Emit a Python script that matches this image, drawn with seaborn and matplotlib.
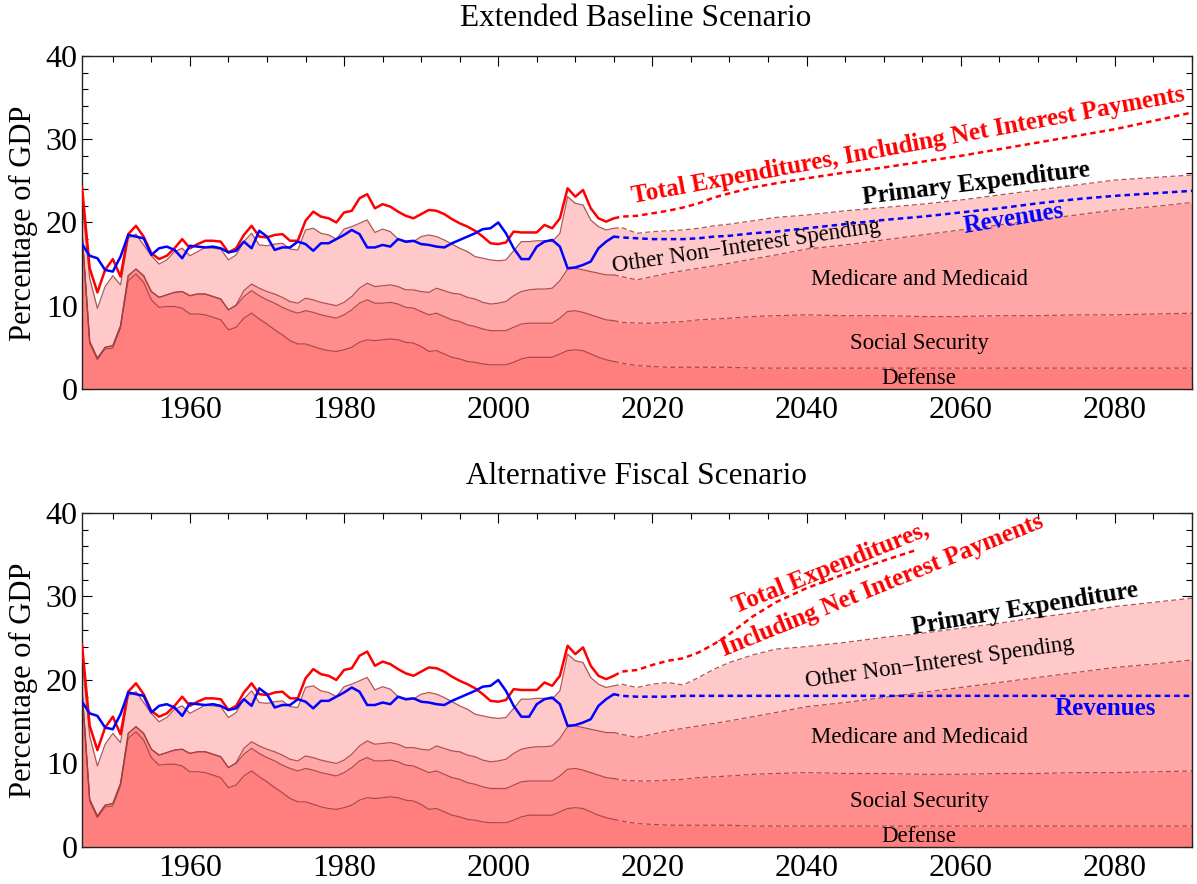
import matplotlib
matplotlib.use('Agg')
import matplotlib.pyplot as plt
from matplotlib.ticker import MultipleLocator
import numpy as np
import seaborn as sns

# ---- historical data, 1946-2015 (percent of GDP) ----
hist_years = list(range(1946, 2016))
defense_hist = [18.7, 5.5, 3.5, 4.8, 4.9, 7.3, 13.0, 13.8, 12.8, 10.7, 9.8, 9.9, 9.9, 9.7,
                9.0, 9.0, 8.9, 8.6, 8.3, 7.1, 7.4, 8.5, 9.1, 8.4, 7.8, 7.1, 6.5, 5.8, 5.4, 5.4,
                5.1, 4.8, 4.6, 4.5, 4.7, 5.0, 5.6, 5.9, 5.8, 5.9, 6.0, 5.9, 5.6, 5.5, 5.1, 4.5,
                4.6, 4.2, 3.8, 3.6, 3.3, 3.2, 3.0, 2.9, 2.9, 2.9, 3.2, 3.6, 3.8, 3.8, 3.8, 3.8,
                4.2, 4.6, 4.7, 4.6, 4.2, 3.8, 3.5, 3.3]
socsec_hist = [0.2, 0.2, 0.2, 0.2, 0.3, 0.3, 0.6, 0.6, 0.8, 1.0, 1.2, 1.4, 1.7, 2.0,
               2.2, 2.4, 2.5, 2.5, 2.5, 2.4, 2.6, 2.6, 2.7, 2.8, 2.9, 3.2, 3.3, 3.6, 3.7, 4.0,
               4.1, 4.1, 4.1, 4.0, 4.2, 4.5, 4.7, 4.8, 4.5, 4.4, 4.4, 4.3, 4.2, 4.2, 4.2, 4.4,
               4.5, 4.5, 4.5, 4.5, 4.4, 4.3, 4.2, 4.1, 4.1, 4.1, 4.2, 4.2, 4.1, 4.1, 4.1, 4.1,
               4.3, 4.7, 4.7, 4.6, 4.7, 4.8, 4.8, 4.9]
medic_hist = [0.0] * 20 + [0.1, 0.7, 0.8, 0.9, 1.0, 1.1, 1.2, 1.1, 1.2, 1.5,
                           1.5, 1.5, 1.5, 1.5, 1.5, 1.6, 1.8, 2.0, 2.0, 2.1, 2.1, 2.1, 2.1, 2.2,
                           2.4, 2.7, 3.0, 3.1, 3.2, 3.3, 3.3, 3.3, 3.2, 3.2, 3.3, 3.5, 3.8, 3.9,
                           4.0, 4.1, 4.1, 4.2, 4.5, 5.1, 5.1, 5.1, 5.2, 5.3, 5.4, 5.5]
primary_hist = [22.5, 13.3, 9.7, 12.3, 13.6, 12.5, 18.1, 18.6, 17.3, 16.0, 15.0, 15.5, 16.5,
                16.9, 16.0, 16.5, 17.0, 16.9, 16.8, 15.5, 16.1, 17.7, 18.7, 17.3, 17.2, 17.4,
                17.5, 16.8, 16.7, 19.1, 19.3, 18.7, 18.5, 18.0, 19.2, 19.5, 19.9, 20.3, 18.8,
                19.2, 18.9, 18.0, 17.6, 17.7, 18.3, 18.5, 18.3, 17.9, 17.4, 16.9, 16.5, 15.9,
                15.7, 15.5, 15.4, 15.5, 16.6, 17.7, 17.7, 17.8, 17.8, 17.7, 18.7, 23.1, 22.3,
                22.1, 20.3, 19.5, 19.1, 19.3]
total_hist = [24.3, 14.5, 11.6, 14.3, 15.6, 13.5, 18.6, 19.6, 18.3, 16.3, 15.6, 16.0, 16.9,
              18.0, 16.9, 17.4, 17.8, 17.8, 17.7, 16.4, 16.9, 18.5, 19.6, 18.3, 18.2, 18.5,
              18.6, 17.8, 17.8, 20.2, 21.3, 20.7, 20.5, 20.0, 21.2, 21.4, 22.9, 23.4, 21.7,
              22.2, 21.9, 21.3, 20.8, 20.5, 21.0, 21.5, 21.4, 21.0, 20.4, 19.9, 19.5, 19.0,
              18.3, 17.5, 17.4, 17.6, 18.9, 18.8, 18.8, 18.8, 19.7, 19.3, 20.5, 24.1, 23.1,
              23.9, 21.7, 20.5, 20.1, 20.5]
revenue_hist = [17.4, 16.0, 15.7, 14.3, 14.1, 15.9, 18.5, 18.3, 18.1, 16.1, 16.9, 17.1, 16.7,
                15.7, 17.2, 17.1, 17.0, 17.1, 16.9, 16.4, 16.6, 17.7, 16.9, 19.0, 18.3, 16.7,
                17.0, 17.0, 17.7, 17.4, 16.6, 17.5, 17.5, 18.0, 18.5, 19.1, 18.6, 17.0, 17.0,
                17.3, 17.1, 18.0, 17.7, 17.8, 17.4, 17.3, 17.1, 17.0, 17.5, 17.9, 18.3, 18.7,
                19.2, 19.3, 20.0, 18.7, 16.9, 15.6, 15.6, 17.1, 17.7, 17.9, 17.1, 14.5, 14.6,
                14.9, 15.3, 16.9, 17.7, 18.3]

# ---- projections, 2015-2090 ----
proj_years = [2015, 2016, 2018, 2020, 2022, 2024, 2026, 2028, 2030, 2033, 2036, 2040,
              2045, 2050, 2055, 2060, 2065, 2070, 2075, 2080, 2085, 2090]
defense_proj = [3.3, 3.1, 2.8, 2.7, 2.6, 2.6, 2.6, 2.6, 2.6, 2.5, 2.5, 2.5,
                2.5, 2.5, 2.5, 2.5, 2.5, 2.5, 2.5, 2.5, 2.5, 2.5]
socsec_proj = [4.9, 4.9, 5.1, 5.2, 5.4, 5.5, 5.7, 5.8, 5.9, 6.2, 6.3, 6.4,
               6.3, 6.3, 6.2, 6.2, 6.3, 6.3, 6.4, 6.4, 6.5, 6.6]
medic_proj = [5.5, 5.5, 5.2, 5.6, 5.9, 6.1, 6.2, 6.4, 6.6, 6.9, 7.3, 7.9,
              8.5, 9.1, 9.8, 10.4, 10.9, 11.5, 12.0, 12.6, 12.9, 13.3]

# extended baseline
primary_base = [19.3, 19.4, 18.7, 18.9, 19.0, 19.1, 19.3, 19.6, 19.8, 20.2, 20.6, 20.9,
                21.4, 21.8, 22.2, 22.7, 23.3, 23.9, 24.5, 25.1, 25.4, 25.7]
total_base = [20.5, 20.7, 20.8, 21.1, 21.4, 21.8, 22.3, 23.0, 23.5, 24.2, 24.7, 25.3,
              26.0, 26.6, 27.3, 28.0, 28.8, 29.6, 30.4, 31.2, 32.2, 33.2]
revenue_base = [18.3, 18.2, 18.1, 18.0, 18.0, 18.0, 18.1, 18.3, 18.4, 18.7, 18.9, 19.3,
                19.8, 20.3, 20.7, 21.2, 21.7, 22.3, 22.8, 23.2, 23.5, 23.8]

# alternative fiscal scenario
primary_alt = [19.3, 19.5, 19.1, 19.5, 19.7, 19.4, 20.3, 21.3, 22.1, 23.0, 23.7, 24.0,
               24.5, 25.1, 25.6, 26.2, 26.8, 27.5, 28.1, 28.8, 29.3, 29.8]
total_alt_years = [2015, 2016, 2018, 2020, 2022, 2024, 2026, 2028, 2030, 2033, 2036, 2040,
                   2045, 2050, 2054]
total_alt = [20.5, 21.0, 21.2, 21.8, 22.3, 22.6, 23.3, 24.3, 25.5, 27.6, 29.3, 31.0,
             32.7, 34.3, 35.5]
revenue_alt = [18.3, 18.1, 18.0, 18.0, 18.0, 18.1, 18.1, 18.1, 18.1, 18.1, 18.1, 18.1,
               18.1, 18.1, 18.1, 18.1, 18.1, 18.1, 18.1, 18.1, 18.1, 18.1]

# colours
C_DEF, C_SS, C_MED, C_OTH = '#FF7F7F', '#FF8D8D', '#FFA6A6', '#FFC9C9'
C_EDGE = '#A33A3A'
DOTS = (0, (2.2, 1.6))
FINE = (0, (4, 2.5))

sns.set_theme(style='ticks')
plt.rcParams['font.family'] = ['Liberation Serif', 'DejaVu Serif']
plt.rcParams['text.color'] = 'black'
plt.rcParams['axes.labelcolor'] = 'black'


def draw_panel(ax, primary_proj, tot_years, tot_proj, rev_proj):
    hy = np.array(hist_years, dtype=float)
    py = np.array(proj_years, dtype=float)
    d_h = np.array(defense_hist)
    s_h = d_h + np.array(socsec_hist)
    m_h = s_h + np.array(medic_hist)
    p_h = np.array(primary_hist)
    d_p = np.array(defense_proj)
    s_p = d_p + np.array(socsec_proj)
    m_p = s_p + np.array(medic_proj)
    p_p = np.array(primary_proj)

    yrs = np.concatenate([hy, py[1:]])
    d = np.concatenate([d_h, d_p[1:]])
    s = np.concatenate([s_h, s_p[1:]])
    m = np.concatenate([m_h, m_p[1:]])
    p = np.concatenate([p_h, p_p[1:]])

    ax.fill_between(yrs, 0, d, color=C_DEF, lw=0, zorder=1)
    ax.fill_between(yrs, d, s, color=C_SS, lw=0, zorder=1)
    ax.fill_between(yrs, s, m, color=C_MED, lw=0, zorder=1)
    ax.fill_between(yrs, m, p, color=C_OTH, lw=0, zorder=1)

    for h, pr in [(d_h, d_p), (s_h, s_p), (m_h, m_p), (p_h, p_p)]:
        ax.plot(hy, h, color=C_EDGE, lw=0.9, alpha=0.85, zorder=2)
        ax.plot(py, pr, color=C_EDGE, lw=0.9, alpha=0.85, ls=FINE, zorder=2)

    sns.lineplot(x=hist_years, y=total_hist, ax=ax, color='#FF0000', lw=1.8, zorder=3)
    sns.lineplot(x=tot_years, y=tot_proj, ax=ax, color='#FF0000', lw=1.8,
                 linestyle=DOTS, zorder=3)
    sns.lineplot(x=hist_years, y=revenue_hist, ax=ax, color='#0000FF', lw=1.8, zorder=3)
    sns.lineplot(x=proj_years, y=rev_proj, ax=ax, color='#0000FF', lw=1.8,
                 linestyle=DOTS, zorder=3)

    ax.set_xlim(1946, 2090)
    ax.set_ylim(0, 40)
    ax.xaxis.set_major_locator(MultipleLocator(20))
    ax.xaxis.set_minor_locator(MultipleLocator(5))
    ax.yaxis.set_major_locator(MultipleLocator(10))
    ax.yaxis.set_minor_locator(MultipleLocator(2))
    ax.set_xticks([1960, 1980, 2000, 2020, 2040, 2060, 2080])
    ax.tick_params(which='both', direction='in', top=True, right=True,
                   labelsize=23, colors='black', width=0.8)
    ax.tick_params(which='major', length=7, pad=5)
    ax.tick_params(which='minor', length=4)
    ax.tick_params(axis='y', pad=3)
    for sp in ax.spines.values():
        sp.set_color('#222222')
        sp.set_linewidth(1.0)
    ax.set_xlabel('')
    ax.set_ylabel('')

    # stack labels
    ax.text(2054.6, 13.1, 'Medicare and Medicaid', fontsize=16.5, ha='center', va='center', zorder=4)
    ax.text(2054.6, 5.5, 'Social Security', fontsize=16.5, ha='center', va='center', zorder=4)
    ax.text(2054.6, 1.3, 'Defense', fontsize=16.5, ha='center', va='center', zorder=4)


fig = plt.figure(figsize=(11.97, 8.84), dpi=100)
ax1 = fig.add_axes([0.0685, 0.560, 0.9273, 0.3767])
ax2 = fig.add_axes([0.0685, 0.0419, 0.9273, 0.3778])

draw_panel(ax1, primary_base, proj_years, total_base, revenue_base)
draw_panel(ax2, primary_alt, total_alt_years, total_alt, revenue_alt)

# top panel annotations
ax1.text(2053.2, 29.3, 'Total Expenditures, Including Net Interest Payments', color='#FF0000',
         fontsize=18, fontweight='bold', rotation=10.5, ha='center', va='center',
         rotation_mode='anchor', zorder=4)
ax1.text(2062, 24.7, 'Primary Expenditure', fontsize=18, fontweight='bold', rotation=7,
         ha='center', va='center', rotation_mode='anchor', zorder=4)
ax1.text(2066.8, 20.5, 'Revenues', color='#0000FF', fontsize=18, fontweight='bold', rotation=9,
         ha='center', va='center', rotation_mode='anchor', zorder=4)
ax1.text(2032.2, 17.1, 'Other Non\u2212Interest Spending', fontsize=16.5, rotation=8.5,
         ha='center', va='center', rotation_mode='anchor', zorder=4)

# bottom panel annotations
ax2.text(2043.2, 33.4, 'Total Expenditures,', color='#FF0000', fontsize=18, fontweight='bold',
         rotation=22, ha='center', va='center', rotation_mode='anchor', zorder=4)
ax2.text(2049.8, 31.3, 'Including Net Interest Payments', color='#FF0000', fontsize=18,
         fontweight='bold', rotation=22, ha='center', va='center', rotation_mode='anchor',
         zorder=4)
ax2.text(2068.3, 28.5, 'Primary Expenditure', fontsize=18, fontweight='bold', rotation=9.5,
         ha='center', va='center', rotation_mode='anchor', zorder=4)
ax2.text(2057.2, 22.1, 'Other Non\u2212Interest Spending', fontsize=16.5, rotation=8,
         ha='center', va='center', rotation_mode='anchor', zorder=4)
ax2.text(2078.7, 16.6, 'Revenues', color='#0000FF', fontsize=18, fontweight='bold',
         ha='center', va='center', zorder=4)

# titles and axis labels
fig.text(636 / 1197, 1 - 18 / 884, 'Extended Baseline Scenario', fontsize=22.5,
         ha='center', va='center')
fig.text(636 / 1197, 1 - 476 / 884, 'Alternative Fiscal Scenario', fontsize=22.5,
         ha='center', va='center')
fig.text(23.5 / 1197, 0.748, 'Percentage of GDP', fontsize=22, rotation=90,
         ha='center', va='center')
fig.text(23.5 / 1197, 0.231, 'Percentage of GDP', fontsize=22, rotation=90,
         ha='center', va='center')

fig.savefig('out.png', dpi=100)
